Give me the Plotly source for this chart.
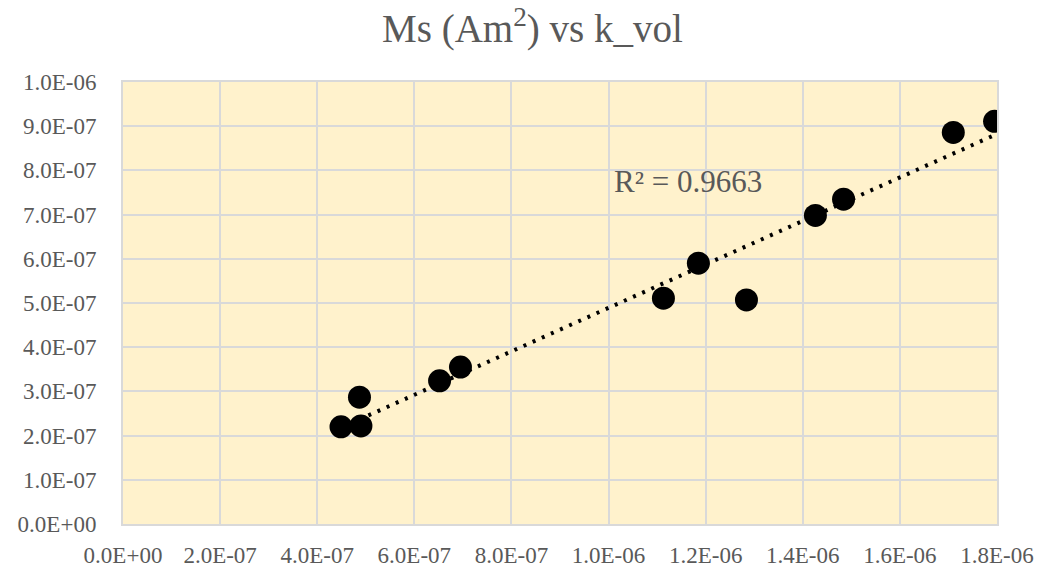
import numpy as np
import plotly.graph_objects as go

# Measured samples: volume-normalised k vs saturation moment
k_vol = [4.49e-7, 4.90e-7, 4.87e-7, 6.52e-7, 6.95e-7, 1.113e-6, 1.185e-6,
         1.284e-6, 1.426e-6, 1.484e-6, 1.710e-6, 1.795e-6]
ms = [2.20e-7, 2.22e-7, 2.87e-7, 3.24e-7, 3.55e-7, 5.11e-7, 5.90e-7,
      5.07e-7, 6.98e-7, 7.35e-7, 8.86e-7, 9.11e-7]

x_ticks = [0, 2e-7, 4e-7, 6e-7, 8e-7, 1.0e-6, 1.2e-6, 1.4e-6, 1.6e-6, 1.8e-6]
y_ticks = [0, 1e-7, 2e-7, 3e-7, 4e-7, 5e-7, 6e-7, 7e-7, 8e-7, 9e-7, 1.0e-6]
r2_label = "R² = 0.9663"

def sci(v):
    return f"{v:.1E}"

# Least-squares linear trendline over the data span
slope, intercept = np.polyfit(k_vol, ms, 1)
tx = np.array([min(k_vol), max(k_vol)])
ty = slope * tx + intercept

FONT = "Liberation Serif"
TXT = "#595959"
GRID = "#d9d9d9"

fig = go.Figure()
fig.add_trace(go.Scatter(
    x=tx, y=ty, mode="lines",
    line=dict(color="black", width=4, dash="3px,7px"),
    hoverinfo="skip", showlegend=False,
))
fig.add_trace(go.Scatter(
    x=k_vol, y=ms, mode="markers",
    marker=dict(color="black", size=23),
    showlegend=False,
))

fig.add_annotation(
    x=1.007e-6, y=7.74e-7, xref="x", yref="y", text=r2_label,
    showarrow=False, xanchor="left", yanchor="middle",
    font=dict(family=FONT, size=31, color=TXT),
)

fig.update_layout(
    width=1038, height=573,
    margin=dict(l=123, r=41, t=82, b=49),
    paper_bgcolor="white",
    plot_bgcolor="#fff2cc",
    font=dict(family=FONT, size=23, color=TXT),
    title=dict(text="Ms (Am<sup>2</sup>) vs k_vol", x=0.513, xanchor="center",
               y=0.95, yanchor="middle",
               font=dict(family=FONT, size=39, color=TXT)),
    xaxis=dict(range=[0, 1.8e-6], tickvals=x_ticks,
               ticktext=[sci(v) for v in x_ticks], automargin=False,
               showgrid=True, gridcolor=GRID, gridwidth=2,
               showline=True, linecolor=GRID, linewidth=2, mirror=True,
               zeroline=False, ticks="", ticklabelstandoff=9),
    yaxis=dict(range=[0, 1.0e-6], tickvals=y_ticks,
               ticktext=[sci(v) for v in y_ticks], automargin=False,
               showgrid=True, gridcolor=GRID, gridwidth=2,
               showline=True, linecolor=GRID, linewidth=2, mirror=True,
               zeroline=False, ticks="", ticklabelstandoff=20),
)

fig.write_html("out.html")
